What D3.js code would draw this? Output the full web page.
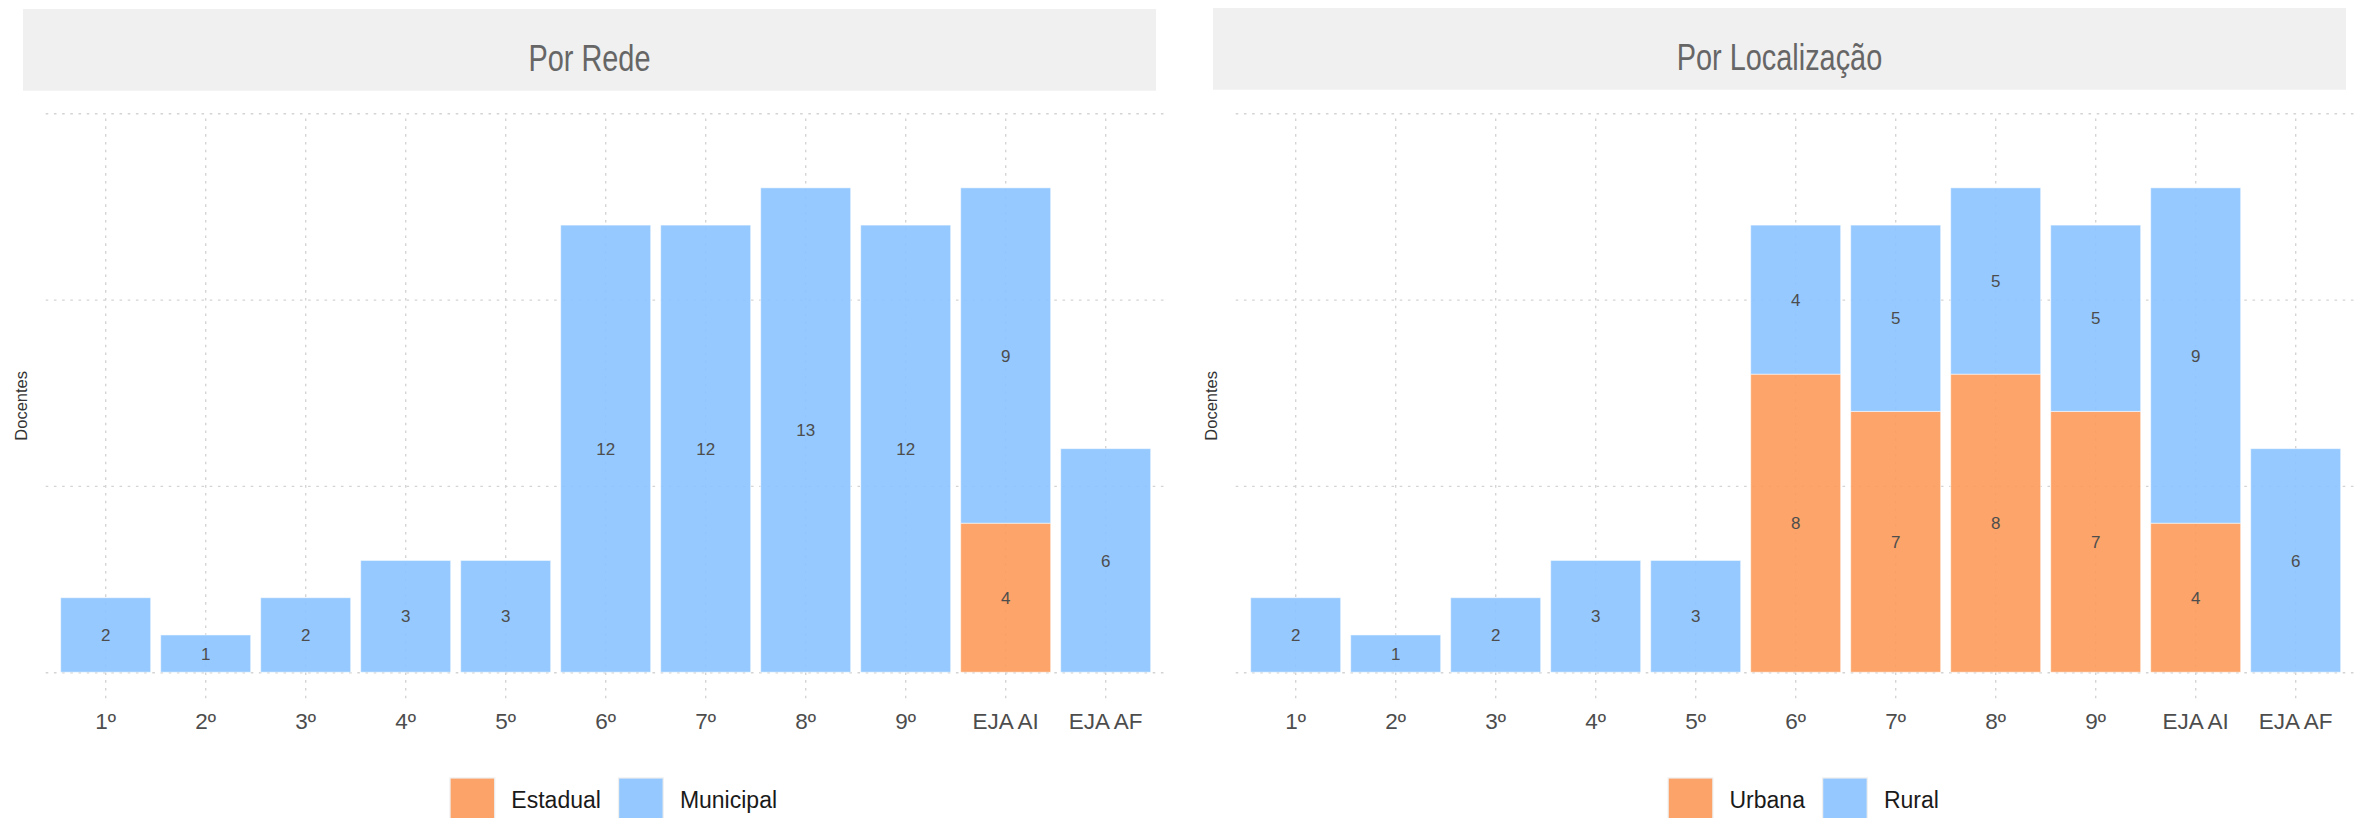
<!DOCTYPE html>
<html>
<head>
<meta charset="utf-8">
<script src="https://cdn.jsdelivr.net/npm/d3@7"></script>
<style>
  html, body { margin: 0; padding: 0; background: #ffffff; }
  svg { display: block; }
  text { font-family: "Liberation Sans", Arial, Helvetica, sans-serif; }
</style>
</head>
<body>
<svg id="chart" width="2366" height="818"></svg>
<script>
// ---------------- data ----------------
const categories = ["1º", "2º", "3º", "4º", "5º", "6º", "7º", "8º", "9º", "EJA AI", "EJA AF"];

const redeEstadual  = [0, 0, 0, 0, 0, 0, 0, 0, 0, 4, 0];
const redeMunicipal = [2, 1, 2, 3, 3, 12, 12, 13, 12, 9, 6];

const locUrbana = [0, 0, 0, 0, 0, 8, 7, 8, 7, 4, 0];
const locRural  = [2, 1, 2, 3, 3, 4, 5, 5, 5, 9, 6];

const yTicks = [0, 5, 10, 15];
const yAxisTitle = "Docentes";

const panelTitles = ["Por Rede", "Por Localização"];
const redeKeys = ["Estadual", "Municipal"];
const locKeys = ["Urbana", "Rural"];

// ---------------- styles ----------------
const COLOR_ORANGE = "#fc9a59";
const COLOR_BLUE = "#8ac3ff";

const svg = d3.select("#chart");

function buildRows(keys, a, b) {
  return categories.map((c, i) => ({ cat: c, [keys[0]]: a[i], [keys[1]]: b[i] }));
}

const panels = [
  { title: panelTitles[0], keys: redeKeys, rows: buildRows(redeKeys, redeEstadual, redeMunicipal),
    dx: 0, stripTop: 9 },
  { title: panelTitles[1], keys: locKeys, rows: buildRows(locKeys, locUrbana, locRural),
    dx: 1190, stripTop: 8 }
];

const P = { left: 45.7, right: 1165.7, top: 113.3, bottom: 698.3 };

panels.forEach(p => {
  const g = svg.append("g").attr("transform", `translate(${p.dx},0)`);

  // strip / title box
  g.append("rect")
    .attr("x", 23).attr("y", p.stripTop)
    .attr("width", 1133).attr("height", 81.7)
    .attr("fill", "#f0f0f0");
  g.append("text")
    .attr("transform", `translate(${(23 + 1156) / 2},${p.stripTop + 61.7}) scale(0.77,1)`)
    .attr("text-anchor", "middle")
    .attr("font-size", 37.5)
    .attr("fill", "#666666")
    .text(p.title);

  const x = d3.scaleBand()
    .domain(categories)
    .range([P.left, P.right])
    .paddingInner(0.1)
    .paddingOuter(0.15);

  const y = d3.scaleLinear()
    .domain([-0.7, 15])
    .range([P.bottom, P.top]);

  const panelW = P.right - P.left;
  const panelH = P.bottom - P.top;

  // horizontal gridlines
  const gy = g.append("g")
    .attr("transform", `translate(${P.left},0)`)
    .call(d3.axisLeft(y).tickValues(yTicks).tickSize(-panelW).tickFormat(""));
  gy.select(".domain").remove();
  gy.selectAll("line")
    .attr("stroke", "#d4d4d4")
    .attr("stroke-width", 1.4)
    .attr("stroke-dasharray", "2.6,5.6");

  // vertical gridlines
  const gx = g.append("g")
    .attr("transform", `translate(0,${P.bottom})`)
    .call(d3.axisBottom(x).tickSize(-panelH).tickFormat(""));
  gx.select(".domain").remove();
  gx.selectAll("line")
    .attr("stroke", "#d4d4d4")
    .attr("stroke-width", 1.4)
    .attr("stroke-dasharray", "2.6,5.2");

  // stacked bars
  const stack = d3.stack().keys(p.keys);
  const series = stack(p.rows);
  const color = d3.scaleOrdinal().domain(p.keys).range([COLOR_ORANGE, COLOR_BLUE]);

  const sg = g.append("g").selectAll("g")
    .data(series).join("g")
    .attr("fill", d => color(d.key));

  sg.selectAll("rect")
    .data(d => d.filter(s => s[1] - s[0] > 0))
    .join("rect")
    .attr("x", d => x(d.data.cat))
    .attr("width", x.bandwidth())
    .attr("y", d => y(d[1]))
    .attr("height", d => y(d[0]) - y(d[1]))
    .attr("fill-opacity", 0.9)
    .attr("stroke", "#ffffff")
    .attr("stroke-opacity", 0.55)
    .attr("stroke-width", 1);

  // value labels
  const lg = g.append("g");
  series.forEach(s => {
    lg.selectAll(null)
      .data(s.filter(d => d[1] - d[0] > 0))
      .join("text")
      .attr("x", d => x(d.data.cat) + x.bandwidth() / 2)
      .attr("y", d => y((d[0] + d[1]) / 2))
      .attr("dy", "0.36em")
      .attr("text-anchor", "middle")
      .attr("font-size", 17)
      .attr("fill", "#4d4d4d")
      .text(d => d[1] - d[0]);
  });

  // x tick labels
  const ax = g.append("g")
    .attr("transform", `translate(0,${P.bottom})`)
    .call(d3.axisBottom(x).tickSize(0));
  ax.select(".domain").remove();
  ax.selectAll("text")
    .attr("y", 22.4)
    .attr("dy", "0.36em")
    .attr("font-size", 22.5)
    .attr("font-family", "Liberation Sans, Arial, sans-serif")
    .attr("fill", "#4d4d4d");

  // y axis title
  g.append("text")
    .attr("transform", `translate(21,${(P.top + P.bottom) / 2}) rotate(-90)`)
    .attr("text-anchor", "middle")
    .attr("dy", "0.36em")
    .attr("font-size", 16.5)
    .attr("fill", "#333333")
    .text(yAxisTitle);

  // legend
  const keyS = 46, gapKT = 16, gapTK = 17, fs = 23;
  const leg = g.append("g");
  const tmp = leg.append("text").attr("font-size", fs);
  const widths = p.keys.map(k => { tmp.text(k); return tmp.node().getComputedTextLength(); });
  tmp.remove();
  const total = keyS + gapKT + widths[0] + gapTK + keyS + gapKT + widths[1];
  let cx = (P.left + P.right) / 2 + 7.5 - total / 2;
  const keyTop = 777.3;
  p.keys.forEach((k, i) => {
    leg.append("rect")
      .attr("x", cx).attr("y", keyTop)
      .attr("width", keyS).attr("height", keyS)
      .attr("fill", "#efefef");
    leg.append("rect")
      .attr("x", cx + 1.3).attr("y", keyTop + 1.3)
      .attr("width", keyS - 2.6).attr("height", keyS - 2.6)
      .attr("fill", color(k))
      .attr("fill-opacity", 0.9);
    cx += keyS + gapKT;
    leg.append("text")
      .attr("x", cx).attr("y", 800)
      .attr("dy", "0.36em")
      .attr("font-size", fs)
      .attr("fill", "#1a1a1a")
      .text(k);
    cx += widths[i] + gapTK;
  });
});
</script>
</body>
</html>
